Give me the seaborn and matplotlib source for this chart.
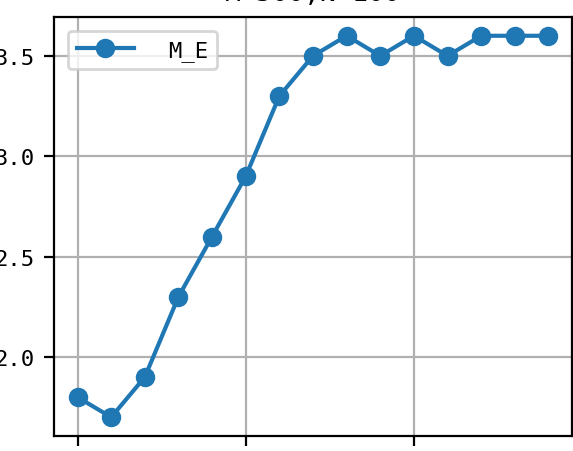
import matplotlib
matplotlib.use("Agg")
import matplotlib.pyplot as plt
import seaborn as sns
import pandas as pd

# Iteration index and the M_E value measured at each step
steps = [0, 1, 2, 3, 4, 5, 6, 7, 8, 9, 10, 11, 12, 13, 14]
m_e = [1.8, 1.7, 1.9, 2.3, 2.6, 2.9, 3.3, 3.5, 3.6, 3.5, 3.6, 3.5, 3.6, 3.6, 3.6]
series_label = "M_E"
x_ticks = [0, 5, 10]
y_ticks = [2.0, 2.5, 3.0, 3.5]
title_text = "M=500,N=100"

plt.rcParams["font.family"] = ["DejaVu Sans Mono"]
plt.rcParams["font.size"] = 8

df = pd.DataFrame({"step": steps, "value": m_e})

fig = plt.figure(figsize=(5.73 / 2, 4.52 / 2), dpi=200)
ax = fig.add_axes([54 / 573, (452 - 437.3) / 452, (572 - 54) / 573, (437.3 - 17.7) / 452])

sns.lineplot(
    data=df, x="step", y="value", ax=ax, color="#1f77b4",
    marker="o", markersize=6, markeredgecolor="#1f77b4", markeredgewidth=1,
    linewidth=1.5, label=series_label,
)

ax.set_xticks(x_ticks)
ax.set_yticks(y_ticks)
ax.set_xlabel("")
ax.set_ylabel("")
ax.grid(True, color="#b0b0b0", linewidth=0.8)
ax.set_axisbelow(True)
ax.tick_params(labelsize=8)
ax.tick_params(axis="x", labelbottom=False)
ax.set_title(title_text, fontsize=9.6)

ax.legend(
    loc="upper left", prop={"family": "DejaVu Sans Mono", "size": 8},
    handlelength=2.57, handletextpad=1.53, borderaxespad=0.63,
)

fig.savefig("out.png", dpi=200)
